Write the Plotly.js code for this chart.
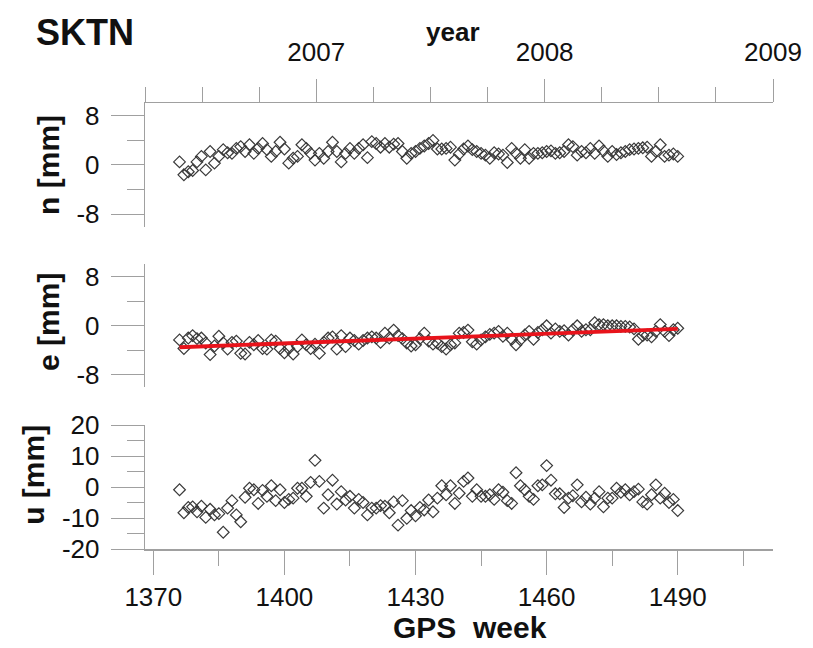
<!DOCTYPE html>
<html><head><meta charset="utf-8">
<script src="https://cdn.plot.ly/plotly-3.0.1.min.js"></script>
<style>html,body{margin:0;padding:0;background:#fff}#chart{width:813px;height:648px}</style>
</head><body><div id="chart"></div>
<script>
const stationName = 'SKTN';
const weeks = [1376,1377,1378,1379,1380,1381,1382,1383,1384,1385,
1386,1387,1388,1389,1390,1391,1392,1393,1394,1395,
1396,1397,1398,1399,1400,1401,1402,1403,1404,1405,
1406,1407,1408,1409,1410,1411,1412,1413,1414,1415,
1416,1417,1418,1419,1420,1421,1422,1423,1424,1425,
1426,1427,1428,1429,1430,1431,1432,1433,1434,1435,
1436,1437,1438,1439,1440,1441,1442,1443,1444,1445,
1446,1447,1448,1449,1450,1451,1452,1453,1454,1455,
1456,1457,1458,1459,1460,1461,1462,1463,1464,1465,
1466,1467,1468,1469,1470,1471,1472,1473,1474,1475,
1476,1477,1478,1479,1480,1481,1482,1483,1484,1485,
1486,1487,1488,1489,1490];
const nValues = [0.5,-1.6,-1.1,-0.9,0.5,1.4,-0.8,2.2,0.3,1.4,
2.5,2.0,1.9,2.7,3.0,2.2,3.3,1.9,2.7,3.5,
2.5,1.4,2.2,3.7,2.6,0.3,1.1,1.4,3.3,2.7,
1.9,0.8,1.9,1.1,2.2,3.7,2.2,0.5,1.9,2.7,
1.9,2.7,3.3,1.2,3.8,3.5,2.9,3.5,2.9,3.4,
3.5,2.2,1.1,1.9,2.2,2.7,3.1,3.5,4.0,2.6,
2.6,2.7,2.9,0.8,1.8,2.6,3.1,2.5,2.2,1.9,
1.6,1.1,2.0,1.8,1.6,0.4,2.7,1.9,1.1,2.5,
1.1,1.9,1.9,2.0,2.2,2.3,1.9,2.0,2.2,3.3,
3.0,1.6,2.2,2.0,2.7,1.9,3.1,2.3,1.4,2.2,
1.7,2.0,2.2,2.5,2.6,2.7,2.8,2.9,1.4,2.2,
3.3,1.4,1.6,1.8,1.4];
const eValues = [-2.3,-3.7,-2.0,-1.6,-2.1,-2.0,-2.8,-4.7,-3.3,-1.7,
-2.8,-3.8,-2.7,-2.5,-4.5,-4.6,-2.7,-3.1,-2.4,-3.7,
-3.8,-2.3,-2.5,-3.7,-4.4,-3.7,-4.6,-3.4,-2.3,-3.1,
-3.7,-3.0,-4.5,-2.7,-2.0,-1.8,-3.8,-1.6,-3.4,-2.0,
-2.4,-3.0,-2.4,-2.0,-1.8,-2.0,-2.7,-1.2,-2.0,-0.7,
-1.6,-2.1,-2.8,-3.3,-3.1,-2.1,-1.2,-2.5,-3.0,-2.8,
-3.4,-3.8,-3.1,-2.8,-1.2,-1.1,-0.7,-2.6,-3.0,-2.3,
-1.8,-1.4,-1.2,-0.9,-1.7,-1.2,-2.2,-3.1,-2.3,-1.5,
-0.9,-2.2,-1.1,-0.65,0.0,-1.2,-0.5,-0.9,-0.8,-1.5,
-0.65,0.0,-0.9,-0.65,-0.65,0.5,0.2,0.2,0.0,0.0,
0.0,-0.1,-0.1,-0.2,-0.5,-2.2,-1.6,-1.5,-1.8,-0.9,
0.2,-0.9,-1.6,-0.65,-0.4];
const uValues = [-0.9,-8.3,-6.6,-6.4,-8.0,-6.2,-9.8,-7.2,-9.0,-8.6,
-14.6,-6.8,-4.4,-9.0,-11.2,-3.3,-0.4,-0.9,-5.3,-1.1,
-3.0,0.4,-4.4,-0.9,-5.0,-4.0,-3.6,-0.4,-0.4,-3.0,
1.5,8.6,1.8,-6.8,-2.5,2.2,-5.5,-1.5,-4.2,-3.0,
-6.8,-4.0,-5.0,-9.0,-6.8,-6.8,-6.0,-6.2,-8.3,-4.8,
-12.3,-4.4,-10.1,-7.6,-9.3,-6.6,-7.4,-4.2,-8.0,-3.6,
0.4,-2.5,0.4,-5.3,-2.0,1.8,2.9,-3.0,-0.9,-3.0,
-3.0,-2.5,-4.0,-0.9,-1.7,-4.4,-5.3,4.6,0.4,-0.9,
-3.0,-4.0,0.4,0.7,6.9,2.2,-2.2,-2.2,-6.6,-3.6,
-2.8,0.7,-4.8,-3.3,-5.5,-3.6,-1.5,-6.4,-3.6,-3.6,
-0.4,-1.7,-0.9,-2.5,-1.5,-0.7,-4.8,-5.5,-2.5,0.7,
-3.6,-2.0,-5.0,-4.0,-7.6];
const trendWeeks = [1376, 1490];
const trendValues = [-3.5, -0.5];
const gpsTicks = [1370, 1400, 1430, 1460, 1490];
const gpsTickText = ['1370', '1400', '1430', '1460', '1490'];
const yearTicks = [2007, 2008, 2009];
const yearTickText = ['2007', '2008', '2009'];
const neTicks = [-8, 0, 8];
const neTickText = ['-8', '0', '8'];
const uTicks = [-20, -10, 0, 10, 20];
const uTickText = ['-20', '-10', '0', '10', '20'];

const gray = '#a0a0a0';
const tickFont = {family: '"Liberation Sans", Arial, sans-serif', size: 26, color: '#111'};
const boldFont = (s) => ({family: '"Liberation Sans", Arial, sans-serif', size: s, color: '#111'});
const marker = {symbol: 'diamond-open', size: 9, color: '#3a3a3a', line: {width: 1.2, color: '#3a3a3a'}};

const traces = [
  {x: weeks, y: nValues, xaxis: 'x', yaxis: 'y', mode: 'markers', type: 'scatter', marker: marker, hoverinfo: 'skip'},
  {x: weeks, y: eValues, xaxis: 'x', yaxis: 'y2', mode: 'markers', type: 'scatter', marker: marker, hoverinfo: 'skip'},
  {x: trendWeeks, y: trendValues, xaxis: 'x', yaxis: 'y2', mode: 'lines', type: 'scatter', line: {color: '#e8131b', width: 3.8}, hoverinfo: 'skip'},
  {x: weeks, y: uValues, xaxis: 'x', yaxis: 'y3', mode: 'markers', type: 'scatter', marker: marker, hoverinfo: 'skip'},
  {x: [], y: [], xaxis: 'x2', yaxis: 'y', mode: 'markers', type: 'scatter', hoverinfo: 'skip'}
];

function yax(domain, range, tv, tt, minorD) {
  return {domain: domain, range: range, anchor: 'x', tickmode: 'array', tickvals: tv, ticktext: tt,
    ticks: 'outside', ticklen: 33, tickwidth: 1, tickcolor: gray, showline: true, linecolor: gray, linewidth: 1.3,
    showgrid: false, zeroline: false, tickfont: tickFont, ticklabelstandoff: 6, fixedrange: true,
    minor: {dtick: minorD, tick0: 0, ticks: 'outside', ticklen: 17, tickwidth: 1, tickcolor: gray, showgrid: false}};
}

const layout = {
  width: 813, height: 648,
  margin: {l: 145, r: 40, t: 103, b: 99, pad: 0},
  paper_bgcolor: '#fff', plot_bgcolor: '#fff', showlegend: false,
  xaxis: {anchor: 'y3', domain: [0, 1], range: [1368.1, 1511.8], tickmode: 'array', tickvals: gpsTicks, ticktext: gpsTickText,
    ticks: 'outside', ticklen: 24, tickwidth: 1, tickcolor: gray, showline: true, linecolor: gray, linewidth: 1.5,
    showgrid: false, zeroline: false, tickfont: tickFont, ticklabelstandoff: 0, fixedrange: true,
    minor: {dtick: 15, tick0: 1370, ticks: 'outside', ticklen: 15, tickwidth: 1, tickcolor: gray, showgrid: false}},
  xaxis2: {overlaying: 'x', anchor: 'y', side: 'top', range: [2006.25, 2009.0], tickmode: 'array', tickvals: yearTicks, ticktext: yearTickText,
    ticks: 'outside', ticklen: 23, tickwidth: 1, tickcolor: gray, showline: true, linecolor: gray, linewidth: 1.3,
    showgrid: false, zeroline: false, tickfont: tickFont, ticklabelstandoff: 7, fixedrange: true,
    minor: {dtick: 0.25, tick0: 2006, ticks: 'outside', ticklen: 15, tickwidth: 1, tickcolor: gray, showgrid: false}},
  yaxis: yax([0.722, 1], [-10.1, 10.1], neTicks, neTickText, 4),
  yaxis2: yax([0.3632, 0.639], [-10, 10.1], neTicks, neTickText, 4),
  yaxis3: yax([0, 0.278], [-20, 20], uTicks, uTickText, 5),
  annotations: [
    {text: '<b>' + stationName + '</b>', xref: 'paper', yref: 'paper', x: -0.176, y: 1.157, xanchor: 'left', yanchor: 'middle', showarrow: false, font: boldFont(36)},
    {text: '<b>year</b>', xref: 'paper', yref: 'paper', x: 0.490, y: 1.159, xanchor: 'center', yanchor: 'middle', showarrow: false, font: boldFont(26)},
    {text: '<b>GPS\u00a0 week</b>', xref: 'paper', yref: 'paper', x: 0.5175, y: -0.176, xanchor: 'center', yanchor: 'middle', showarrow: false, font: boldFont(30)},
    {text: '<b>n [mm]</b>', xref: 'paper', yref: 'paper', x: -0.153, y: 0.861, xanchor: 'center', yanchor: 'middle', textangle: -90, showarrow: false, font: boldFont(30)},
    {text: '<b>e [mm]</b>', xref: 'paper', yref: 'paper', x: -0.153, y: 0.509, xanchor: 'center', yanchor: 'middle', textangle: -90, showarrow: false, font: boldFont(30)},
    {text: '<b>u [mm]</b>', xref: 'paper', yref: 'paper', x: -0.177, y: 0.166, xanchor: 'center', yanchor: 'middle', textangle: -90, showarrow: false, font: boldFont(30)}
  ]
};

Plotly.newPlot('chart', traces, layout, {staticPlot: true, displayModeBar: false});
</script>
</body></html>
